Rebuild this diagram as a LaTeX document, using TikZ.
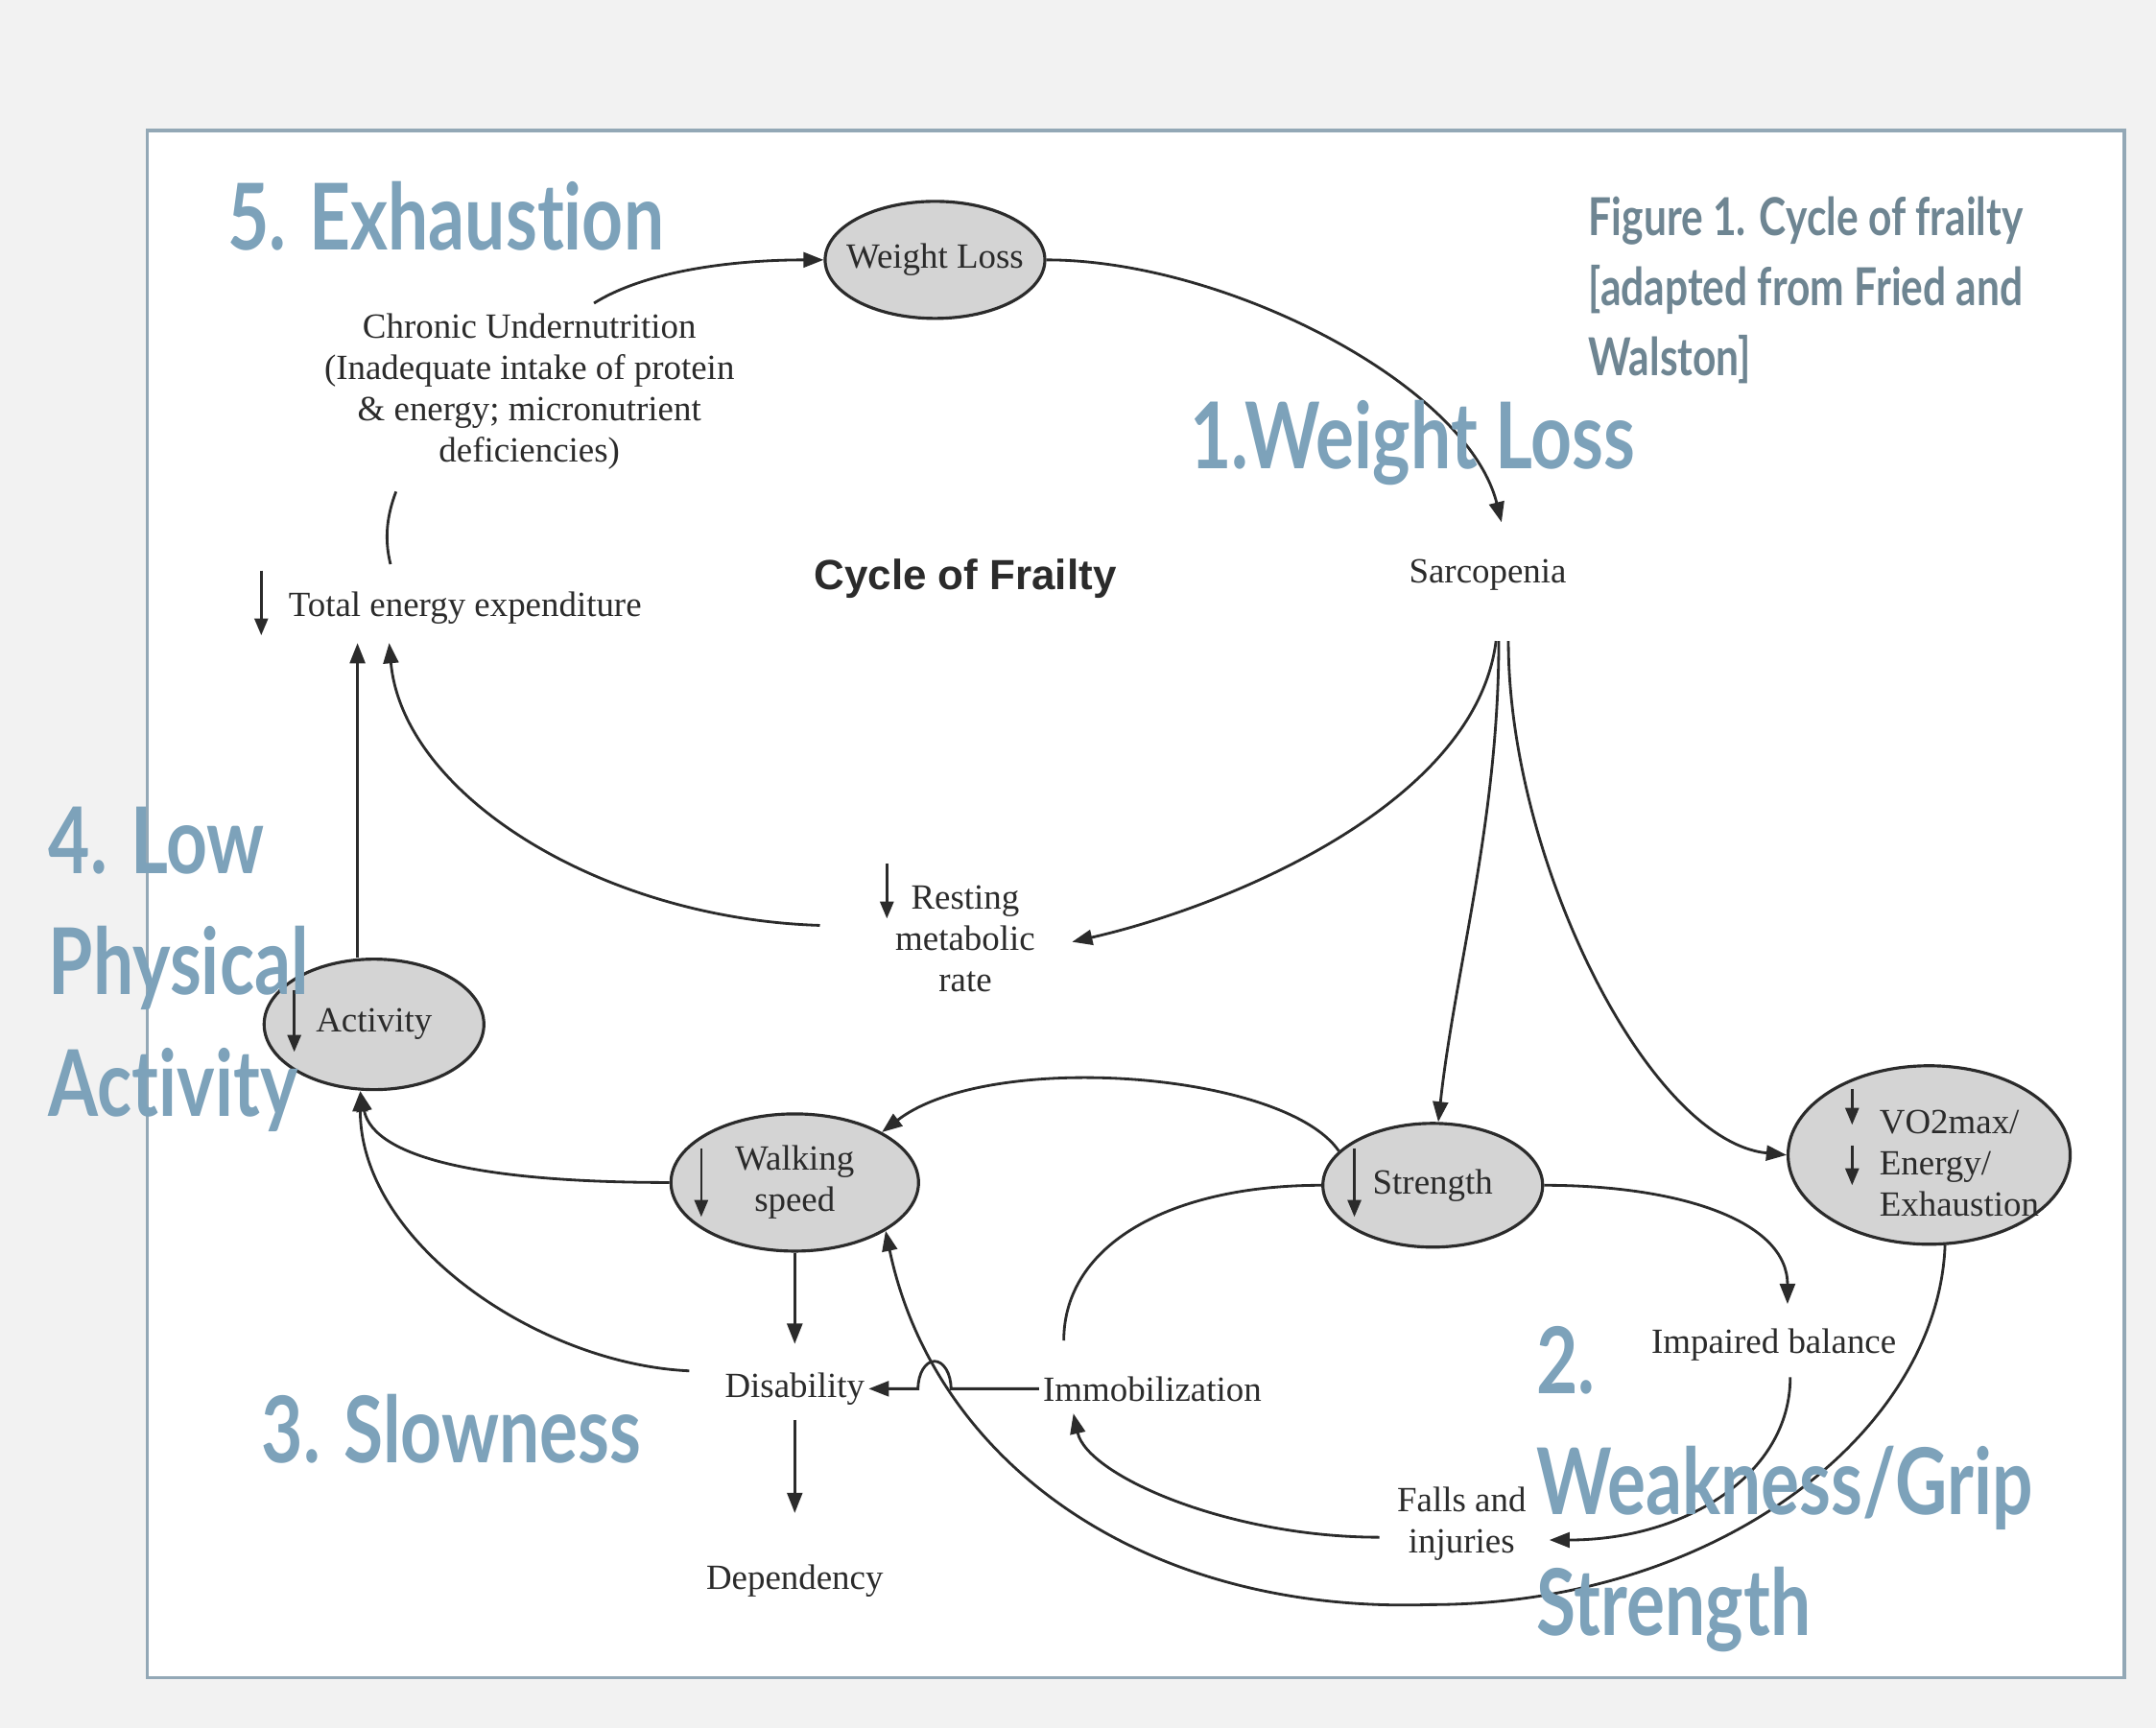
\documentclass[tikz,border=0pt]{standalone}
\usepackage{fontspec}
\setmainfont{Liberation Serif}
\newfontfamily\headfont{Lato}[FakeStretch=0.78,Ligatures=NoCommon]
\newfontfamily\helvfont{Liberation Sans}
\usetikzlibrary{arrows.meta,shapes.geometric,calc}
\definecolor{FrailBlue}{HTML}{7DA2BA}
\definecolor{FrailSlate}{HTML}{6E8592}
\definecolor{FrailFrame}{HTML}{93A8B6}
\definecolor{FrailPage}{HTML}{F2F2F2}
\definecolor{FrailFill}{HTML}{D4D4D4}
\definecolor{FrailInk}{HTML}{2B2B2B}

\begin{document}
\begin{tikzpicture}[x=0.01433cm,y=-0.01433cm,
  stage/.style={ellipse,draw=FrailInk,fill=FrailFill,line width=0.9pt,
    inner sep=0pt,align=center,text=FrailInk,
    font=\fontsize{10.5}{12.2}\selectfont},
  term/.style={align=center,inner sep=1pt,text=FrailInk,
    font=\fontsize{10.5}{12.2}\selectfont},
  arr/.style={-{Triangle[length=6pt,width=4.5pt]},line width=0.8pt,draw=FrailInk},
  link/.style={line width=0.8pt,draw=FrailInk},
  drop/.style={-{Triangle[length=5pt,width=4pt]},line width=0.7pt,draw=FrailInk},
  phase/.style={anchor=west,align=left,inner sep=0pt,text=FrailBlue,
    font=\headfont\bfseries\fontsize{27.3}{35.9}\selectfont}]
  % page and frame
  \fill[FrailPage] (0,0) rectangle (1568,1257);
  \draw[FrailFrame,fill=white,line width=1pt] (107,95) rectangle (1545,1220);
  % stages of the cycle
  \node[stage,inner xsep=-4pt,minimum width=2.29cm,minimum height=1.22cm] (wl) at (680,189) {Weight Loss};
  \node[term] (chron) at (385,285) {Chronic Undernutrition\\(Inadequate intake of protein\\\& energy; micronutrient\\deficiencies)};
  \node[term] (sarc) at (1082,418) {Sarcopenia};
  \node[text=FrailInk,font=\helvfont\bfseries\fontsize{12.5}{14}\selectfont] (title) at (702,421) {Cycle of Frailty};
  \node[term,anchor=west] (tee) at (207,442) {Total energy expenditure};
  \node[term] (rmr) at (702,683) {Resting\\metabolic\\rate};
  \node[stage,minimum width=2.29cm,minimum height=1.36cm] (act) at (272,745) {Activity};
  \node[stage,minimum width=2.58cm,minimum height=1.43cm] (walk) at (578,860) {Walking\\speed};
  \node[stage,minimum width=2.29cm,minimum height=1.29cm] (str) at (1042,862) {Strength};
  \node[stage,minimum width=2.94cm,minimum height=1.86cm] (vo2) at (1403,840) {};
  \node[term,anchor=west,align=left] (vo2txt) at (1364,846) {VO2max/\\Energy/\\Exhaustion};
  \node[term] (dis) at (578,1010) {Disability};
  \node[term] (dep) at (578,1150) {Dependency};
  \node[term] (immo) at (838,1010) {Immobilization};
  \node[term] (bal) at (1290,978) {Impaired balance};
  \node[term] (falls) at (1063,1108) {Falls and\\injuries};
  % decrease marks
  \draw[drop] ($(tee.west)+(-17,-27)$) -- ++(0,47);
  \draw[drop] ($(rmr.center)+(-57,-55)$) -- ++(0,40);
  \draw[drop] ($(act.center)+(-58,-25)$) -- ++(0,45);
  \draw[drop] ($(walk.center)+(-68,-25)$) -- ++(0,50);
  \draw[drop] ($(str.center)+(-57,-27)$) -- ++(0,50);
  \draw[drop] ($(vo2.center)+(-56,-48)$) -- ++(0,26);
  \draw[drop] ($(vo2.center)+(-56,-7)$) -- ++(0,29);
  % top of the cycle
  \draw[arr] ($(chron.north)+(47,-5)$) .. controls +(40,-25) and +(-60,0) .. (wl.west);
  \draw[arr] (wl.east) .. controls +(130,0) and +(-25,-100) .. ($(sarc.north)+(10,-24)$);
  \draw[arr] ($(sarc.south)+(6,34)$) .. controls +(-15,120) and +(110,-25) .. ($(rmr.east)+(24,2)$);
  \draw[arr] ($(sarc.south)+(8,34)$) .. controls +(0,130) and +(12,-110) .. (str.85);
  \draw[arr] ($(sarc.south)+(15,34)$) .. controls +(0,160) and +(-100,-10) .. (vo2.west);
  % energy branch
  \draw[arr] ($(rmr.west)+(-52,-10)$) .. controls +(-160,-5) and +(10,110) .. ($(tee.south west)+(76,11)$);
  \draw[arr] ($(act.north)+(-12,0)$) -- ($(tee.south west)+(53,11)$);
  \draw[link] ($(tee.north west)+(77,-17)$) .. controls +(-5,-20) and +(-6,16) .. ($(chron.south)+(-97,13)$);
  % into activity
  \draw[arr] (walk.west) .. controls +(-130,0) and +(10,50) .. ($(act.south)+(-10,0)$);
  \draw[arr] ($(dis.west)+(-23,-13)$) .. controls +(-110,-5) and +(0,110) .. ($(act.south)+(-10,0)$);
  % walking speed chain
  \draw[arr] (walk.south) -- ($(dis.north)+(0,-18)$);
  \draw[arr] ($(dis.south)+(0,8)$) -- ($(dep.north)+(0,-35)$);
  \draw[arr] (immo.west) -- ++(-64,0) arc[start angle=0,end angle=-180,x radius=12,y radius=20] -- (dis.east);
  % strength loops
  \draw[arr] (str.160) .. controls +(-40,-58) and +(78,-60) .. (walk.30);
  \draw[link] (str.west) .. controls +(-110,0) and +(0,-70) .. ($(immo.north west)+(18,-23)$);
  \draw[arr] (str.east) .. controls +(100,0) and +(0,-60) .. ($(bal.north)+(10,-15)$);
  \draw[arr] ($(bal.south)+(12,9)$) .. controls +(0,70) and +(100,0) .. ($(falls.east)+(14,12)$);
  \draw[arr] ($(falls.west)+(-10,10)$) .. controls +(-110,0) and +(10,45) .. ($(immo.south west)+(25,6)$);
  % exhaustion back to walking speed
  \draw[arr] (vo2.-80) .. controls +(-5,135) and +(210,0) .. (1040,1167)
    .. controls +(-210,7) and +(35,167) .. (walk.-28);
  % frailty criteria
  \node[phase] (exh) at (165,157) {5. Exhaustion};
  \node[phase] (wlp) at (865,322) {1.Weight Loss};
  \node[phase] (lowp) at (35,705) {4. Low\\Physical\\Activity};
  \node[phase] (slow) at (190,1039) {3. Slowness};
  \node[phase] (weak) at (1117,1083) {2.\\Weakness/Grip\\Strength};
  \node[anchor=west,align=left,inner sep=0pt,text=FrailSlate,
    font=\headfont\bfseries\fontsize{15.5}{20.8}\selectfont] (fig) at (1155,211)
    {Figure 1. Cycle of frailty\\{[}adapted from Fried and\\Walston{]}};
\end{tikzpicture}
\end{document}
